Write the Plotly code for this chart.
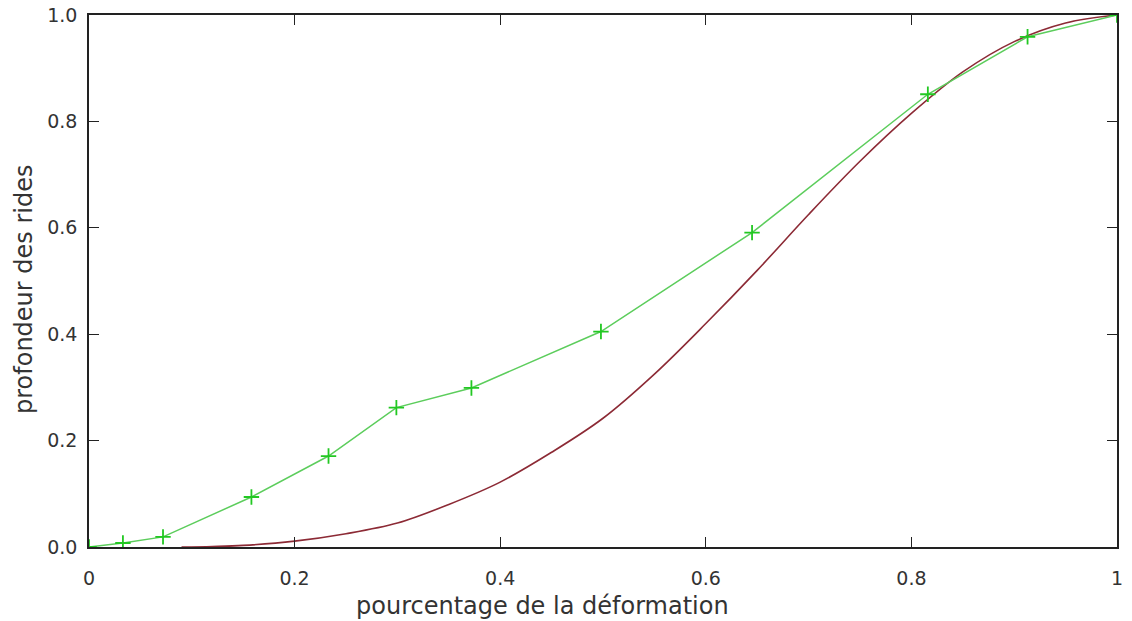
import plotly.graph_objects as go

# Measured points (green, with + markers)
mesure_x = [0.0, 0.033, 0.072, 0.158, 0.233, 0.299, 0.372, 0.498, 0.645, 0.816, 0.913, 1.0]
mesure_y = [0.0, 0.0075, 0.019, 0.094, 0.171, 0.262, 0.299, 0.405, 0.591, 0.851, 0.959, 1.0]

# Model curve (dark red)
modele_x = [0.09, 0.12, 0.15, 0.2, 0.25, 0.3, 0.35, 0.4, 0.45, 0.5, 0.55, 0.6, 0.65,
            0.7, 0.75, 0.8, 0.85, 0.9, 0.95, 1.0]
modele_y = [0.0, 0.001, 0.003, 0.011, 0.025, 0.045, 0.08, 0.122, 0.178, 0.242, 0.325,
            0.42, 0.52, 0.625, 0.725, 0.815, 0.893, 0.95, 0.985, 1.0]

tick_vals_x = [0, 0.2, 0.4, 0.6, 0.8, 1]
tick_text_x = ["0", "0.2", "0.4", "0.6", "0.8", "1"]
tick_vals_y = [0, 0.2, 0.4, 0.6, 0.8, 1.0]
tick_text_y = ["0.0", "0.2", "0.4", "0.6", "0.8", "1.0"]

font = "DejaVu Sans"

modele = go.Scatter(x=modele_x, y=modele_y, mode="lines", line=dict(color="#8c2a35", width=1.6, shape="spline"),
                    showlegend=False)
mesure = go.Scatter(x=mesure_x, y=mesure_y, mode="lines+markers",
                    line=dict(color="#5ccd5c", width=1.5),
                    marker=dict(symbol="cross-thin", size=11, line=dict(color="#22c822", width=1.8)),
                    showlegend=False)

fig = go.Figure(data=[modele, mesure])

axis_style = dict(showline=True, linecolor="#222", linewidth=1.5, mirror="ticks", ticks="inside",
                  ticklen=10, tickwidth=1.3, tickcolor="#222", showgrid=False, zeroline=False,
                  automargin=False, tickfont=dict(family=font, size=19, color="#333"))

fig.update_xaxes(range=[0, 1], tickvals=tick_vals_x, ticktext=tick_text_x, ticklabelstandoff=13, **axis_style)
fig.update_yaxes(range=[0, 1], tickvals=tick_vals_y, ticktext=tick_text_y, ticklabelstandoff=6, **axis_style)

# plot box in page pixels: x 89..1117, y 15..547 (body margin removed below)
W, H = 1132, 621
left, top = 89, 15
right = W - 1117
bottom = H - 547
pw = W - left - right
ph = H - top - bottom

def px_to_paper(x, y):
    return (x - left) / pw, (H - bottom - y) / ph

xt_x, xt_y = px_to_paper(542, 606)
yt_x, yt_y = px_to_paper(24, 290)

fig.update_layout(
    width=W, height=H,
    margin=dict(l=left, r=right, t=top, b=bottom),
    plot_bgcolor="white", paper_bgcolor="white",
    annotations=[
        dict(text="pourcentage de la déformation", x=xt_x, y=xt_y, xref="paper", yref="paper",
             xanchor="center", yanchor="middle",
             showarrow=False, font=dict(family=font, size=24, color="#333")),
        dict(text="profondeur des rides", x=yt_x, y=yt_y, xref="paper", yref="paper",
             xanchor="center", yanchor="middle",
             showarrow=False, textangle=-90, font=dict(family=font, size=24, color="#333")),
    ],
)

fig.write_html("out.html", config={"displayModeBar": False},
               post_script="document.body.style.margin='0px';")
